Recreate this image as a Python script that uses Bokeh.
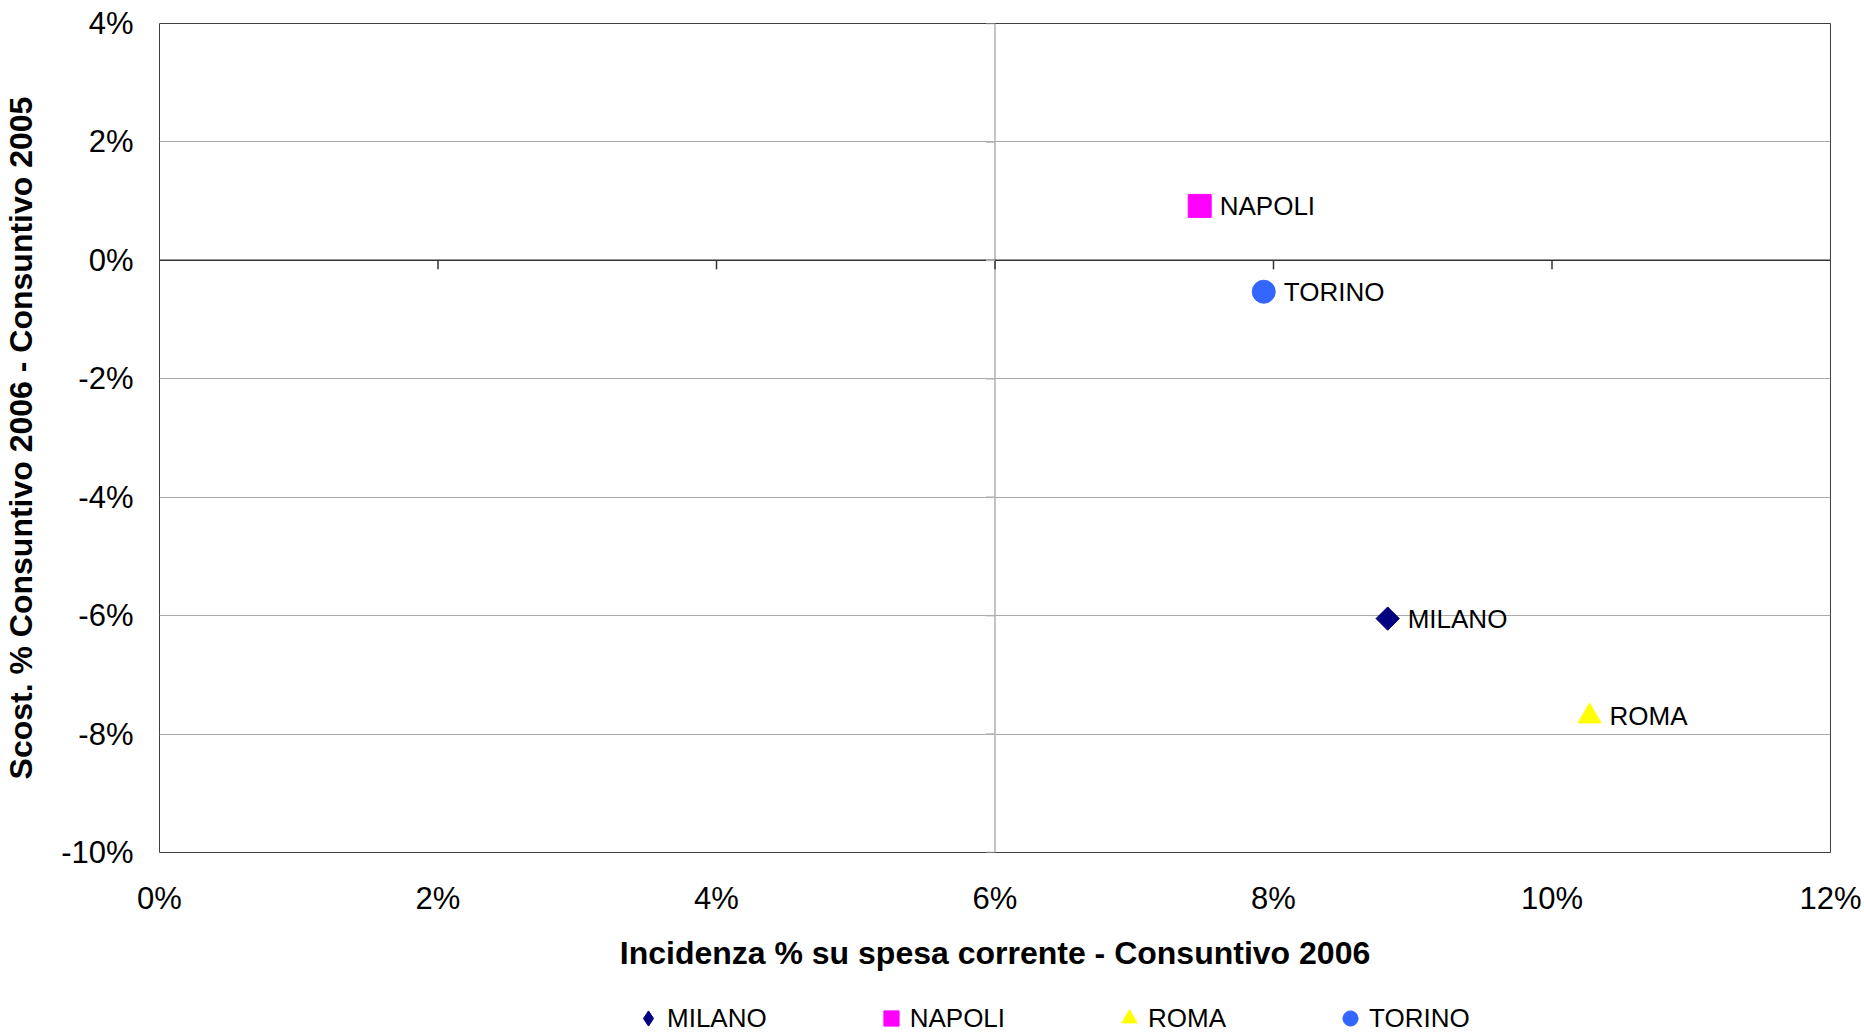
import math
from bokeh.plotting import figure
from bokeh.layouts import column
from bokeh.models import Span, Legend, LegendItem, PrintfTickFormatter, FixedTicker
from bokeh.core.properties import value
from bokeh.embed import file_html
from bokeh.resources import INLINE

# ---- data ----
cities = ["MILANO", "NAPOLI", "ROMA", "TORINO"]
incidenza_2006 = [8.82, 7.47, 10.27, 7.93]          # x, %
scost_2006_2005 = [-6.05, 0.92, -7.70, -0.53]       # y, %
colors = ["#000080", "#FF00FF", "#FFFF00", "#3366FF"]
markers = ["square", "square", "triangle", "circle"]
legend_markers = ["diamond", "square", "triangle", "circle"]
marker_angles = [math.pi / 4, 0, 0, 0]
marker_sizes = [16.5, 23, 23, 23]
x_ticks = [0, 2, 4, 6, 8, 10, 12]
y_ticks = [-10, -8, -6, -4, -2, 0, 2, 4]
x_title = "Incidenza % su spesa corrente - Consuntivo 2006"
y_title = "Scost. % Consuntivo 2006 - Consuntivo 2005"
y_axis_cross_x = 6
x_axis_cross_y = 0

FONT = "Liberation Sans"

p = figure(width=1864, height=980, x_range=(x_ticks[0], x_ticks[-1]),
           y_range=(y_ticks[0], y_ticks[-1]), output_backend="svg",
           toolbar_location=None, min_border_left=158, min_border_right=34,
           min_border_top=23, min_border_bottom=128)
p.background_fill_color = "white"
p.border_fill_color = "white"
p.outline_line_color = "#404040"
p.outline_line_width = 1

# grid
p.xgrid.visible = False
p.ygrid.ticker = FixedTicker(ticks=y_ticks)
p.ygrid.grid_line_color = "#aaaaaa"
p.ygrid.grid_line_width = 1

# axes (labels only)
for ax in (p.xaxis[0], p.yaxis[0]):
    ax.axis_line_color = None
    ax.major_tick_line_color = None
    ax.minor_tick_line_color = None
    ax.major_label_text_font = FONT
    ax.major_label_text_font_size = "31px"
    ax.major_label_text_color = "black"
    ax.axis_label_text_font = FONT
    ax.axis_label_text_font_size = "32px"
    ax.axis_label_text_font_style = "bold"
    ax.axis_label_text_color = "black"
    ax.formatter = PrintfTickFormatter(format="%d%%")
p.xaxis.ticker = FixedTicker(ticks=x_ticks)
p.yaxis.ticker = FixedTicker(ticks=y_ticks)
p.xaxis.axis_label = x_title
p.yaxis.axis_label = y_title
p.xaxis.major_label_standoff = 22
p.xaxis.axis_label_standoff = 16
p.yaxis.major_label_standoff = 20
p.yaxis.axis_label_standoff = 19

# crossing axes
v_axis = Span(location=y_axis_cross_x, dimension="height", line_color="#b0b0b0",
              line_width=1.5, level="underlay")
h_axis = Span(location=x_axis_cross_y, dimension="width", line_color="#333333",
              line_width=1.5, level="underlay")
p.add_layout(v_axis)
p.add_layout(h_axis)

# tick marks on crossing axes
x_inner = [t for t in x_ticks if x_ticks[0] < t < x_ticks[-1]]
p.ray(x=x_inner, y=[x_axis_cross_y] * len(x_inner), length=9, length_units="screen",
      angle=-math.pi / 2, line_color="#333333", line_width=1.5)
p.ray(x=[y_axis_cross_x] * len(y_ticks), y=y_ticks, length=9, length_units="screen",
      angle=math.pi, line_color="#b0b0b0", line_width=1.5)

# points
for i, c in enumerate(cities):
    p.scatter(x=[incidenza_2006[i]], y=[scost_2006_2005[i]], marker=markers[i],
              size=marker_sizes[i], angle=marker_angles[i],
              fill_color=colors[i], line_color=colors[i], line_width=1)

p.text(x=incidenza_2006, y=scost_2006_2005, text=cities, x_offset=20,
       text_baseline="middle", text_align="left", text_font=value(FONT),
       text_font_size="26px", text_color="black")

# ---- legend strip below the chart ----
lg = figure(width=1864, height=52, x_range=(0, 1), y_range=(0, 1),
            output_backend="svg", toolbar_location=None,
            x_axis_type=None, y_axis_type=None,
            min_border_left=0, min_border_right=0, min_border_top=0, min_border_bottom=0)
lg.outline_line_color = None
lg.xgrid.visible = False
lg.ygrid.visible = False
lg.background_fill_color = "white"
lg.border_fill_color = "white"

items = []
for i, c in enumerate(cities):
    r = lg.scatter(x=[incidenza_2006[i]], y=[scost_2006_2005[i]], marker=legend_markers[i],
                   fill_color=colors[i], line_color=colors[i], visible=False)
    items.append(LegendItem(label=c, renderers=[r]))

legend = Legend(items=items, orientation="horizontal", location=(470, -5),
                glyph_width=38, glyph_height=38, label_standoff=0, spacing=105,
                padding=0, margin=0, border_line_color=None,
                background_fill_alpha=0, label_text_font=FONT,
                label_text_font_size="26px", label_text_color="black")
lg.add_layout(legend)

layout = column(p, lg, spacing=0)
open("out.html", "w").write(file_html(layout, INLINE))
